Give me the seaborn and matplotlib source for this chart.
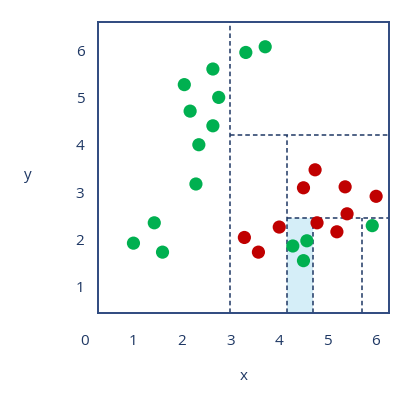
import numpy as np
import pandas as pd
import seaborn as sns
import matplotlib.pyplot as plt

# points
green_x = [1.00, 1.43, 1.60, 2.05, 2.64, 2.76, 2.17, 2.64, 2.35, 2.29, 3.32, 3.72, 5.93, 4.29, 4.58, 4.51]
green_y = [1.92, 2.35, 1.73, 5.27, 5.60, 5.00, 4.71, 4.40, 4.00, 3.17, 5.95, 6.07, 2.29, 1.86, 1.97, 1.55]
red_x = [3.29, 3.58, 4.01, 4.51, 4.75, 4.79, 5.37, 5.41, 5.20, 6.01]
red_y = [2.04, 1.73, 2.26, 3.09, 3.47, 2.35, 3.11, 2.54, 2.16, 2.91]

# split lines (kd-tree style partition)
vsplits = [(3.0, 0.45, 6.60), (4.16, 0.45, 4.21), (4.71, 0.45, 2.45), (5.72, 0.45, 2.45)]
hsplits = [(4.21, 3.0, 6.28), (2.45, 4.16, 6.28)]
shaded = (4.16, 4.71, 0.45, 2.45)

ticks_x = [0, 1, 2, 3, 4, 5, 6]
ticks_y = [1, 2, 3, 4, 5, 6]

df = pd.DataFrame({
    "x": green_x + red_x,
    "y": green_y + red_y,
    "cls": ["g"] * len(green_x) + ["r"] * len(red_x),
})

sns.set_style("white")
plt.rcParams['font.family'] = ['Open Sans', 'DejaVu Sans']
navy = "#1f3864"

fig = plt.figure(figsize=(4.05, 3.93), dpi=100)
ax = fig.add_axes([0.241, 0.2043, 0.720, 0.7405])

# shaded leaf
ax.fill_between([shaded[0], shaded[1]], shaded[2], shaded[3], color="#d5eef8", lw=0, zorder=1)

for x, y0, y1 in vsplits:
    ax.vlines(x, y0, y1, colors=navy, linestyles=(0, (3, 2)), lw=1.1, zorder=2)
for y, x0, x1 in hsplits:
    ax.hlines(y, x0, x1, colors=navy, linestyles=(0, (3, 2)), lw=1.1, zorder=2)

sns.scatterplot(data=df, x="x", y="y", hue="cls", palette={"g": "#00b050", "r": "#c00000"},
                s=90, linewidth=0, legend=False, ax=ax, zorder=3)

ax.set_xlim(0.26, 6.28)
ax.set_ylim(0.45, 6.60)
ax.set_xticks(ticks_x[1:])
ax.set_yticks(ticks_y)
ax.tick_params(axis="x", length=0, pad=15.5, labelsize=11, labelcolor=navy)
ax.tick_params(axis="y", length=0, pad=9.5, labelsize=11, labelcolor=navy)
# "0" sits left of the frame, outside the view limits
ax.annotate("0", xy=(0, 0), xycoords=("data", "axes fraction"), xytext=(0, -15.5),
            textcoords="offset points", ha="center", va="top", fontsize=11, color=navy,
            annotation_clip=False)

for sp in ax.spines.values():
    sp.set_color("#2f4a7f")
    sp.set_linewidth(1.4)

ax.set_xlabel("x", fontsize=11, color=navy, labelpad=14)
ax.set_ylabel("y", fontsize=11, color=navy, rotation=0, labelpad=40, va="center")
ax.yaxis.set_label_coords(-0.24, 0.47)

fig.savefig("out.png", dpi=100)
